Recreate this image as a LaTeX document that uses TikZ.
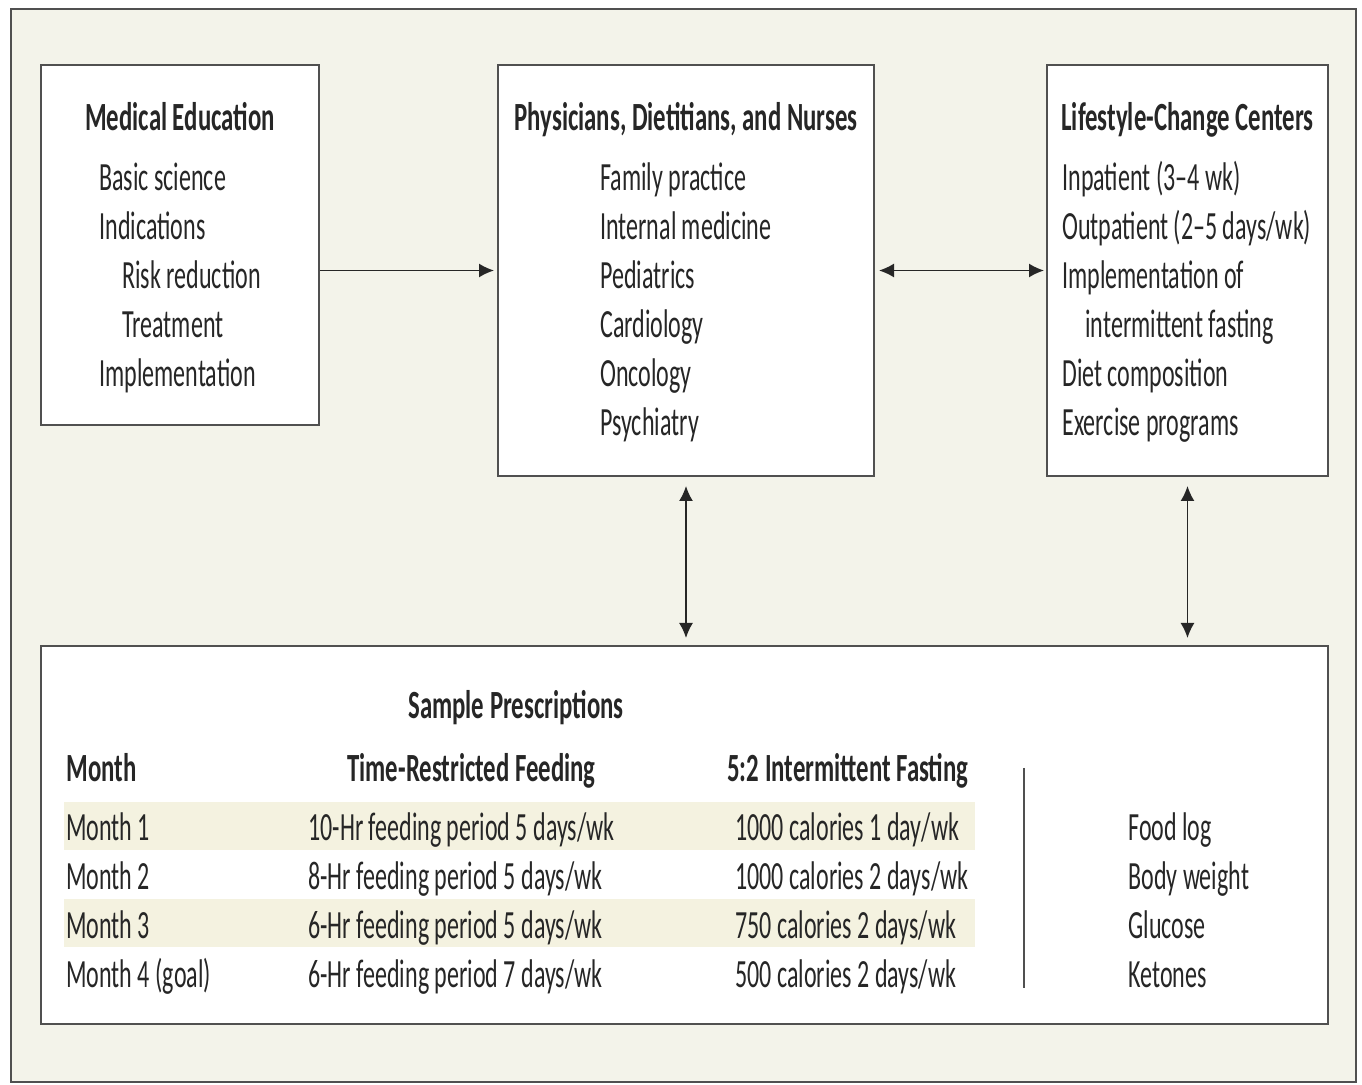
\documentclass[tikz,border=0pt]{standalone}
\usepackage{fontspec}
\setmainfont{Carlito}[FakeStretch=0.6,BoldFeatures={FakeStretch=0.62}]
\usepackage{tikz}
\usetikzlibrary{arrows.meta,positioning}
\definecolor{panel}{RGB}{243,243,234}
\definecolor{rowfill}{RGB}{244,242,224}
\definecolor{frame}{RGB}{80,80,80}
\definecolor{ink}{RGB}{38,38,38}

\begin{document}
\begin{tikzpicture}[x=0.5pt,y=-0.5pt]
    \tikzstyle{box}=[rectangle,draw=frame,fill=white,line width=1pt,%
    anchor=north west,inner sep=0pt] %
    \tikzstyle{head}=[font=\bfseries\fontsize{20}{24.5}\selectfont,text=ink,%
    inner sep=0pt,anchor=base] %
    % multi-line lists are placed by the baseline of their last line
    \tikzstyle{item}=[font=\fontsize{20}{24.5}\selectfont,text=ink,%
    align=left,inner sep=0pt,anchor=base west] %
    \tikzstyle{link}=[-{Latex[length=7.5pt,width=7pt]},line width=0.8pt,draw=ink] %
    \tikzstyle{both}=[{Latex[length=7.5pt,width=7pt]}-{Latex[length=7.5pt,width=7pt]},%
    line width=0.8pt,draw=ink] %

    \useasboundingbox (0,0) rectangle (1362,1085);
    \draw[frame,line width=1pt,fill=panel] (11,9) rectangle (1356,1082);

    \node[box,minimum width=139pt,minimum height=180pt] (MED) at (40,64) {};
    \node[box,minimum width=188pt,minimum height=205.5pt] (PHY) at (497,64) {};
    \node[box,minimum width=140.5pt,minimum height=205.5pt] (LIFE) at (1046,64) {};
    \node[box,minimum width=643.5pt,minimum height=189pt] (RX) at (40,645) {};

    \node[head] (MEDT) at (MED.center |- 0,131) {Medical Education};
    \node[item] (MEDL) at (99,387) {Basic science\\Indications\\%
      \hspace*{11.5pt}Risk reduction\\\hspace*{11.5pt}Treatment\\Implementation};

    \node[head] (PHYT) at (PHY.center |- 0,131) {Physicians, Dietitians, and Nurses};
    \node[item] (PHYL) at (600,436) {Family practice\\Internal medicine\\%
      Pediatrics\\Cardiology\\Oncology\\Psychiatry};

    \node[head] (LIFET) at (LIFE.center |- 0,131) {Lifestyle-Change Centers};
    \node[item] (LIFEL) at (1062,436) {Inpatient (3--4 wk)\\%
      Outpatient (2--5 days/wk)\\Implementation of\\%
      \hspace*{11.5pt}intermittent fasting\\Diet composition\\Exercise programs};

    % shaded rows of the table
    \fill[rowfill] (64,802) rectangle (975,850);
    \fill[rowfill] (64,899) rectangle (975,947);

    \node[head,anchor=base west] (RXT) at (408,719) {Sample Prescriptions};
    \node[head,anchor=base west] (MONH) at (66,782) {Month};
    \node[head,anchor=base west] (TRFH) at (347,782) {Time-Restricted Feeding};
    \node[head,anchor=base west] (IFH) at (727,782) {5:2 Intermittent Fasting};

    \node[item] (MON) at (66,987) {Month 1\\Month 2\\Month 3\\Month 4 (goal)};
    \node[item] (TRF) at (308,987) {10-Hr feeding period 5 days/wk\\%
      8-Hr feeding period 5 days/wk\\6-Hr feeding period 5 days/wk\\%
      6-Hr feeding period 7 days/wk};
    \node[item] (IF) at (735,987) {1000 calories 1 day/wk\\%
      1000 calories 2 days/wk\\750 calories 2 days/wk\\500 calories 2 days/wk};
    \node[item] (CHK) at (1128,987) {Food log\\Body weight\\Glucose\\Ketones};

    \draw[frame,line width=0.8pt] (1024,768) -- (1024,988);

    \draw[link,shorten >=1.5pt] (PHY.west -| MED.east) -- (PHY.west);
    \draw[both,shorten <=2pt,shorten >=1pt] (PHY.east) -- (LIFE.west);
    \draw[both,shorten <=4.5pt,shorten >=3.5pt] (PHY.south) -- (PHY.south |- RX.north);
    \draw[both,shorten <=4.5pt,shorten >=3.5pt] (LIFE.south) -- (LIFE.south |- RX.north);
\end{tikzpicture}
\end{document}
